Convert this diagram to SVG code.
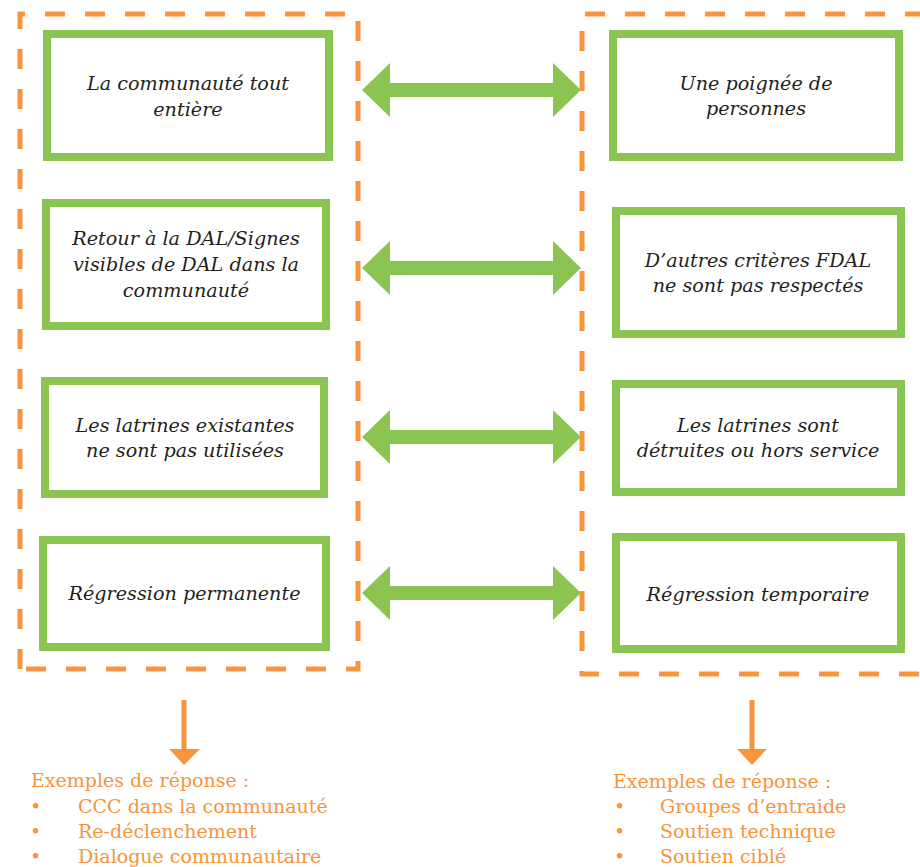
<svg xmlns="http://www.w3.org/2000/svg" width="920" height="867" viewBox="0 0 920 867">
<style>
.frame{fill:none;stroke:#F7943C;stroke-width:5;stroke-dasharray:20 20}
.box{fill:#fff;stroke:#8BC551;stroke-width:8}
.lbl{font-family:"DejaVu Serif","Liberation Serif",serif;font-style:italic;font-size:19.2px;fill:#231F20;text-anchor:middle}
.dbl{fill:#8BC551}
.down{stroke:#F7943C;stroke-width:5;fill:none}
.head{fill:#F7943C}
.ex{font-family:"DejaVu Serif","Liberation Serif",serif;font-size:19px;fill:#F7943C}
</style>
<rect width="920" height="867" fill="#fff"/>
<g id="frames">
<path class="frame" d="M20,669 L20,14 L358,14 L358,669 Z"/>
<path class="frame" d="M925,14 L582,14 L582,674 L925,674"/>
</g>
<g id="connectors">
<polygon class="dbl" points="362,90 390,63 390,83 553,83 553,63 581,90 553,117 553,97 390,97 390,117"/>
<polygon class="dbl" points="362,268 390,241 390,261 553,261 553,241 581,268 553,295 553,275 390,275 390,295"/>
<polygon class="dbl" points="362,437 390,410 390,430 553,430 553,410 581,437 553,464 553,444 390,444 390,464"/>
<polygon class="dbl" points="362,593 390,566 390,586 553,586 553,566 581,593 553,620 553,600 390,600 390,620"/>
<line class="down" x1="184" y1="700" x2="184" y2="752"/>
<polygon class="head" points="169,749 200,749 184,765"/>
<line class="down" x1="752" y1="700" x2="752" y2="752"/>
<polygon class="head" points="737,749 767,749 752,765"/>
</g>
<g id="L1"><rect class="box" x="47" y="34" width="282" height="123"/>
<text class="lbl" x="188" y="90">La communauté tout</text><text class="lbl" x="188" y="116">entière</text></g>
<g id="L2"><rect class="box" x="46" y="203" width="280" height="123"/>
<text class="lbl" x="186" y="245">Retour à la DAL/Signes</text><text class="lbl" x="186" y="271">visibles de DAL dans la</text><text class="lbl" x="186" y="297">communauté</text></g>
<g id="L3"><rect class="box" x="45" y="381" width="279" height="113"/>
<text class="lbl" x="185" y="432">Les latrines existantes</text><text class="lbl" x="185" y="457">ne sont pas utilisées</text></g>
<g id="L4"><rect class="box" x="43" y="540" width="283" height="107"/>
<text class="lbl" x="184.5" y="600">Régression permanente</text></g>
<g id="R1"><rect class="box" x="613" y="34" width="286" height="123"/>
<text class="lbl" x="756" y="90">Une poignée de</text><text class="lbl" x="756" y="115">personnes</text></g>
<g id="R2"><rect class="box" x="616" y="211" width="285" height="123"/>
<text class="lbl" x="758" y="267">D’autres critères FDAL</text><text class="lbl" x="758" y="292">ne sont pas respectés</text></g>
<g id="R3"><rect class="box" x="616" y="384" width="285" height="108"/>
<text class="lbl" x="758" y="432">Les latrines sont</text><text class="lbl" x="758" y="457">détruites ou hors service</text></g>
<g id="R4"><rect class="box" x="616" y="537" width="285" height="112"/>
<text class="lbl" x="758" y="601">Régression temporaire</text></g>
<g id="left-examples">
<text class="ex" x="31" y="787">Exemples de réponse :</text>
<text class="ex" x="30" y="813">•</text><text class="ex" x="78" y="813">CCC dans la communauté</text>
<text class="ex" x="30" y="838">•</text><text class="ex" x="78" y="838">Re-déclenchement</text>
<text class="ex" x="30" y="863">•</text><text class="ex" x="78" y="863">Dialogue communautaire</text>
</g>
<g id="right-examples">
<text class="ex" x="613" y="788">Exemples de réponse :</text>
<text class="ex" x="614" y="813">•</text><text class="ex" x="660" y="813">Groupes d’entraide</text>
<text class="ex" x="614" y="838">•</text><text class="ex" x="660" y="838">Soutien technique</text>
<text class="ex" x="614" y="863">•</text><text class="ex" x="660" y="863">Soutien ciblé</text>
</g>
</svg>
